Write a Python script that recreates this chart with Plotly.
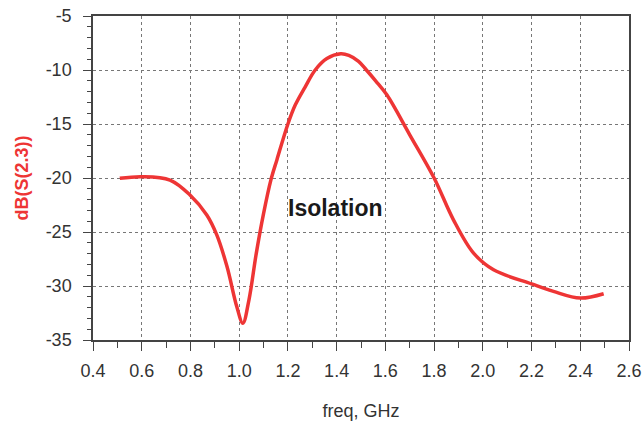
import plotly.graph_objects as go

freq_ghz = [0.51, 0.60, 0.716, 0.798, 0.867, 0.908, 0.95, 0.99, 1.015, 1.04, 1.07,
            1.10, 1.13, 1.155, 1.20, 1.23, 1.27, 1.312, 1.36, 1.417, 1.45, 1.49,
            1.522, 1.56, 1.606, 1.70, 1.80, 1.88, 1.962, 2.044, 2.20, 2.29, 2.40, 2.496]
s23_db = [-20.03, -19.88, -20.19, -21.57, -23.42, -25.27, -28.2, -31.9, -33.45,
          -31.3, -27.0, -23.3, -20.2, -18.3, -15.0, -13.25, -11.6, -10.0, -8.94,
          -8.5, -8.65, -9.2, -10.0, -11.0, -12.3, -16.0, -20.0, -23.9, -26.96, -28.5,
          -29.8, -30.5, -31.12, -30.72]

x_ticks = [0.4, 0.6, 0.8, 1.0, 1.2, 1.4, 1.6, 1.8, 2.0, 2.2, 2.4, 2.6]
x_tick_text = ["0.4", "0.6", "0.8", "1.0", "1.2", "1.4", "1.6", "1.8", "2.0", "2.2", "2.4", "2.6"]
y_ticks = [-35, -30, -25, -20, -15, -10, -5]
y_tick_text = ["-35", "-30", "-25", "-20", "-15", "-10", "-5"]

FONT = "Liberation Sans, Arial, Helvetica, sans-serif"
RED = "#ee3535"

fig = go.Figure()
fig.add_trace(go.Scatter(
    x=freq_ghz, y=s23_db, mode="lines",
    line=dict(color=RED, width=3.5, shape="spline", smoothing=1.0),
    hoverinfo="skip", showlegend=False,
))

fig.add_annotation(
    x=1.395, y=-22.8, xref="x", yref="y", text="<b>Isolation</b>",
    showarrow=False, font=dict(family=FONT, size=23, color="#1a1a1a"),
)

axis_common = dict(
    showline=True, linecolor="#444444", linewidth=1.5, mirror=True,
    showgrid=True, gridcolor="#777777", gridwidth=1, griddash="dot",
    zeroline=False, ticks="outside", tickcolor="#444444", tickwidth=1.2,
    tickfont=dict(family=FONT, size=18, color="#333333"),
    automargin=False,
)

fig.update_xaxes(
    range=[0.4, 2.6], tickvals=x_ticks, ticktext=x_tick_text, ticklen=9,
    minor=dict(dtick=0.1, tick0=0.4, ticks="outside", ticklen=6, tickcolor="#444444", showgrid=False),
    ticklabelstandoff=5,
    title=dict(text="freq, GHz", font=dict(family=FONT, size=18, color="#333333"), standoff=24),
    **axis_common,
)
fig.update_yaxes(
    range=[-35, -5], tickvals=y_ticks, ticktext=y_tick_text, ticklen=8,
    minor=dict(dtick=1, tick0=-35, ticks="outside", ticklen=4, tickcolor="#444444", showgrid=False),
    ticklabelstandoff=8,
    title=dict(text="<b>dB(S(2.3))</b>", font=dict(family=FONT, size=18, color=RED), standoff=12),
    **axis_common,
)

fig.update_layout(
    width=644, height=426,
    margin=dict(l=93, r=15, t=16, b=86),
    paper_bgcolor="white", plot_bgcolor="white",
)

fig.write_html("out.html", config={"displayModeBar": False},
               post_script="document.body.style.margin='0';")
